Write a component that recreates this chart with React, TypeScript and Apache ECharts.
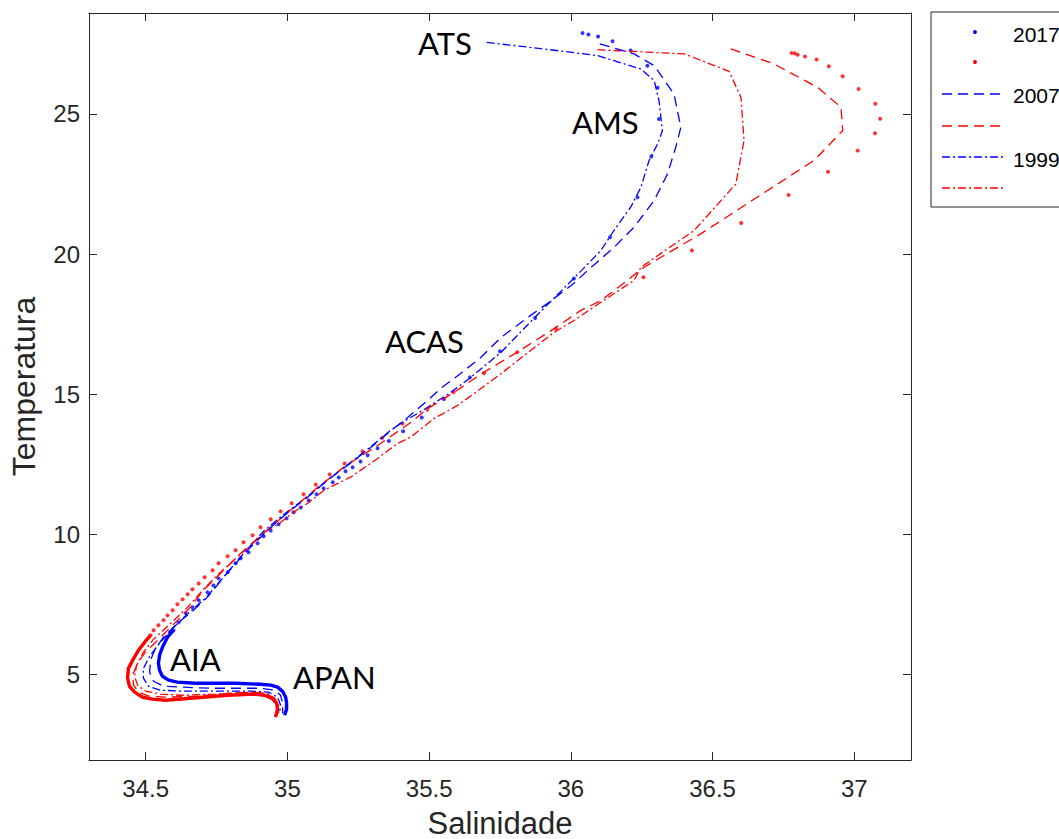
import React, { useEffect, useRef } from "react";
import * as echarts from "echarts";

const xTicks = [34.5, 35, 35.5, 36, 36.5, 37];
const yTicks = [5, 10, 15, 20, 25];
const legendYears = ["2017", "2007", "1999"];

const blue2017Dots = [
  [36.041, 27.89], [36.062, 27.83], [36.096, 27.76], [36.147, 27.59], [36.211, 27.26], [36.27, 26.72],
  [36.306, 25.93], [36.311, 24.82], [36.284, 23.48], [36.235, 22.03], [36.138, 20.6], [36.011, 19.13],
  [35.874, 17.72], [35.75, 16.53], [35.644, 15.6], [35.552, 14.83], [35.474, 14.17], [35.408, 13.68],
  [35.358, 13.33], [35.318, 13.07], [35.283, 12.82], [35.258, 12.6], [35.23, 12.39], [35.205, 12.25],
  [35.181, 12.03], [35.16, 11.86], [35.128, 11.64], [35.103, 11.43], [35.075, 11.21], [35.047, 10.96],
  [35.022, 10.79], [34.997, 10.57], [34.969, 10.36], [34.941, 10.14], [34.916, 9.93], [34.895, 9.68],
  [34.863, 9.36], [34.835, 9.15], [34.817, 8.97], [34.789, 8.65], [34.757, 8.43], [34.739, 8.18],
  [34.718, 7.93], [34.687, 7.65], [34.665, 7.4], [34.641, 7.19], [34.616, 6.86], [34.598, 6.58],
];
const blue2017Dense = [
  [34.598, 6.58], [34.577, 6.33], [34.559, 5.97], [34.549, 5.69], [34.545, 5.4], [34.549, 5.15],
  [34.559, 4.94], [34.581, 4.8], [34.612, 4.73], [34.676, 4.69], [34.729, 4.69], [34.817, 4.69],
  [34.905, 4.65], [34.941, 4.62], [34.965, 4.55], [34.983, 4.4], [34.994, 4.19], [34.997, 3.98],
  [34.997, 3.76], [34.99, 3.55],
];
const red2017Dots = [
  [36.779, 27.17], [36.79, 27.16], [36.8, 27.11], [36.826, 27.05], [36.867, 26.94], [36.91, 26.7],
  [36.959, 26.34], [37.015, 25.89], [37.074, 25.36], [37.091, 24.83], [37.073, 24.31], [37.012, 23.69],
  [36.907, 22.94], [36.768, 22.11], [36.601, 21.11], [36.427, 20.13], [36.256, 19.17], [35.947, 17.34],
  [35.811, 16.5], [35.694, 15.75], [35.586, 15.07], [35.494, 14.45], [35.406, 13.95], [35.335, 13.45],
  [35.265, 12.96], [35.202, 12.53], [35.149, 12.14], [35.1, 11.78], [35.057, 11.43], [35.015, 11.11],
  [34.976, 10.82], [34.941, 10.54], [34.905, 10.25], [34.877, 9.97], [34.845, 9.72], [34.817, 9.43],
  [34.789, 9.22], [34.757, 8.97], [34.736, 8.72], [34.708, 8.47], [34.687, 8.25], [34.665, 8.04],
  [34.648, 7.86], [34.63, 7.68], [34.612, 7.51], [34.595, 7.29], [34.577, 7.11], [34.563, 6.94],
  [34.545, 6.76], [34.528, 6.58], [34.517, 6.4],
];
const red2017Dense = [
  [34.517, 6.4], [34.499, 6.19], [34.475, 5.87], [34.454, 5.51], [34.439, 5.22], [34.436, 4.87],
  [34.443, 4.58], [34.461, 4.37], [34.489, 4.19], [34.524, 4.12], [34.57, 4.08], [34.669, 4.16],
  [34.789, 4.26], [34.881, 4.3], [34.919, 4.26], [34.944, 4.16], [34.962, 3.98], [34.965, 3.76],
  [34.958, 3.48],
];
const blue2007 = [
  [36.102, 27.5], [36.223, 27.14], [36.294, 26.72], [36.364, 25.71], [36.388, 24.52], [36.37, 23.81],
  [36.341, 22.86], [36.294, 21.91], [36.223, 20.96], [36.152, 20.24], [36.059, 19.41], [36.01, 18.95],
  [35.918, 18.24], [35.848, 17.74], [35.753, 17.02], [35.682, 16.31], [35.611, 15.74], [35.541, 15.21],
  [35.495, 14.78], [35.424, 14.17], [35.375, 13.78], [35.294, 13.1], [35.212, 12.46], [35.142, 11.93],
  [35.071, 11.32], [35.011, 10.86], [34.941, 10.25], [34.859, 9.43], [34.775, 8.47], [34.718, 7.76],
  [34.665, 7.26], [34.612, 6.83], [34.563, 6.33], [34.535, 5.94], [34.517, 5.51], [34.514, 5.08],
  [34.528, 4.76], [34.563, 4.58], [34.623, 4.55], [34.729, 4.51], [34.905, 4.51], [34.955, 4.44],
  [34.976, 4.26], [34.983, 3.98], [34.983, 3.62],
];
const red2007 = [
  [36.564, 27.32], [36.717, 26.78], [36.87, 25.95], [36.953, 25.24], [36.959, 24.4], [36.858, 23.34],
  [36.694, 22.27], [36.458, 20.72], [36.258, 19.53], [36.176, 18.88], [36.106, 18.34], [36.035, 17.99],
  [35.941, 17.34], [35.811, 16.5], [35.694, 15.79], [35.588, 15.07], [35.494, 14.48], [35.435, 13.99],
  [35.318, 13.17], [35.198, 12.39], [35.107, 11.68], [35.011, 10.86], [34.916, 10.04], [34.835, 9.32],
  [34.764, 8.61], [34.704, 8.01], [34.648, 7.29], [34.588, 6.69], [34.542, 6.22], [34.499, 5.8],
  [34.471, 5.4], [34.454, 4.98], [34.457, 4.62], [34.475, 4.37], [34.51, 4.23], [34.57, 4.19],
  [34.676, 4.23], [34.792, 4.33], [34.881, 4.37], [34.93, 4.3], [34.955, 4.12], [34.962, 3.84],
  [34.962, 3.59],
];
const blue1999 = [
  [35.703, 27.55], [35.894, 27.33], [36.094, 27.08], [36.247, 26.6], [36.294, 26.19], [36.311, 25.47],
  [36.323, 24.4], [36.306, 23.93], [36.276, 23.34], [36.247, 22.38], [36.211, 21.67], [36.152, 20.84],
  [36.106, 20.13], [36.011, 19.14], [35.869, 17.7], [35.753, 16.49], [35.647, 15.6], [35.576, 15.06],
  [35.488, 14.49], [35.4, 13.96], [35.364, 13.71], [35.287, 13.07], [35.205, 12.43], [35.135, 11.89],
  [35.064, 11.29], [34.987, 10.71], [34.916, 10.11], [34.852, 9.4], [34.771, 8.43], [34.711, 7.72],
  [34.651, 7.19], [34.595, 6.65], [34.549, 6.12], [34.514, 5.65], [34.492, 5.22], [34.492, 4.87],
  [34.51, 4.58], [34.552, 4.44], [34.623, 4.41], [34.747, 4.41], [34.87, 4.41], [34.934, 4.37],
  [34.965, 4.19], [34.976, 3.91], [34.972, 3.62],
];
const red1999 = [
  [36.094, 27.29], [36.4, 27.14], [36.558, 26.52], [36.6, 25.59], [36.611, 24.05], [36.582, 22.5],
  [36.435, 20.84], [36.247, 19.53], [36.223, 19.06], [36.106, 18.28], [36.011, 17.63], [35.941, 17.21],
  [35.858, 16.56], [35.753, 15.73], [35.658, 15.02], [35.6, 14.6], [35.517, 14.13], [35.435, 13.47],
  [35.388, 13.24], [35.317, 12.7], [35.223, 12.04], [35.176, 11.81], [35.129, 11.57], [35.07, 11.1],
  [35.023, 10.8], [34.97, 10.38], [34.929, 10.14], [34.842, 9.36], [34.764, 8.65], [34.704, 8.04],
  [34.644, 7.36], [34.581, 6.76], [34.528, 6.26], [34.492, 5.8], [34.468, 5.33], [34.461, 4.94],
  [34.471, 4.62], [34.499, 4.41], [34.552, 4.3], [34.623, 4.26], [34.747, 4.3], [34.87, 4.37],
  [34.927, 4.33], [34.955, 4.16], [34.969, 3.91], [34.969, 3.62],
];

const waterMasses = [
  { name: "ATS", x: 418, y: 43 },
  { name: "AMS", x: 572, y: 122 },
  { name: "ACAS", x: 385, y: 341 },
  { name: "AIA", x: 170, y: 659 },
  { name: "APAN", x: 293, y: 677 },
];

const BLUE = "#0000ff";
const RED = "#ff0000";
const AXIS = "#262626";
const DASH = [10, 6];
const DASHDOT = [8, 3, 2, 3];

export default function App() {
  const ref = useRef<HTMLDivElement>(null);
  useEffect(() => {
    const chart = echarts.init(ref.current!, null, { renderer: "svg" });
    const lineSeries = (data: number[][], color: string, type: any, width = 1.3) => ({
      type: "line",
      data,
      symbol: "none",
      silent: true,
      animation: false,
      lineStyle: { color, width, type },
    });
    const dotSeries = (data: number[][], color: string) => ({
      type: "scatter",
      data,
      symbol: "circle",
      symbolSize: 4,
      silent: true,
      itemStyle: { color },
    });
    const axisCommon = {
      type: "value",
      axisLine: { show: true, lineStyle: { color: AXIS, width: 1 } },
      axisTick: { show: true, inside: true, length: 8, lineStyle: { color: AXIS, width: 1 } },
      splitLine: { show: false },
    };
    const labelFont = { fontFamily: "Liberation Sans", fontSize: 24, color: AXIS };
    const legendY = [32, 62, 94, 126, 157, 188];
    const legendGraphics: any[] = [
      { type: "rect", shape: { x: 931, y: 12, width: 200, height: 195 }, style: { fill: "#fff", stroke: AXIS, lineWidth: 1 }, z: 10 },
      { type: "circle", shape: { cx: 975, cy: legendY[0], r: 2 }, style: { fill: BLUE }, z: 11 },
      { type: "circle", shape: { cx: 975, cy: legendY[1], r: 2 }, style: { fill: RED }, z: 11 },
      { type: "line", shape: { x1: 942, y1: legendY[2], x2: 1003, y2: legendY[2] }, style: { stroke: BLUE, lineWidth: 1.3, lineDash: DASH }, z: 11 },
      { type: "line", shape: { x1: 942, y1: legendY[3], x2: 1003, y2: legendY[3] }, style: { stroke: RED, lineWidth: 1.3, lineDash: DASH }, z: 11 },
      { type: "line", shape: { x1: 942, y1: legendY[4], x2: 1003, y2: legendY[4] }, style: { stroke: BLUE, lineWidth: 1.3, lineDash: DASHDOT }, z: 11 },
      { type: "line", shape: { x1: 942, y1: legendY[5], x2: 1003, y2: legendY[5] }, style: { stroke: RED, lineWidth: 1.3, lineDash: DASHDOT }, z: 11 },
    ];
    [34, 95.5, 159].forEach((y, i) => {
      legendGraphics.push({
        type: "text",
        x: 1013,
        y,
        z: 11,
        style: { text: legendYears[i], fontFamily: "Liberation Sans", fontSize: 21, fill: "#000", textAlign: "left", textVerticalAlign: "middle" },
      });
    });
    const labelGraphics = waterMasses.map((w) => ({
      type: "text",
      x: w.x,
      y: w.y,
      z: 12,
      style: { text: w.name, fontFamily: "Lato", fontSize: 31, fill: "#000", textAlign: "left", textVerticalAlign: "middle" },
    }));

    chart.setOption({
      animation: false,
      backgroundColor: "#ffffff",
      grid: { left: 89, top: 13, width: 822, height: 747, containLabel: false, outerBoundsMode: "none" },
      xAxis: [
        {
          ...axisCommon,
          position: "bottom",
          min: 34.3,
          max: 37.2,
          name: "Salinidade",
          nameLocation: "middle",
          nameGap: 50,
          nameTextStyle: { fontFamily: "Liberation Sans", fontSize: 31, lineHeight: 26, color: AXIS },
          axisTick: { ...axisCommon.axisTick, customValues: xTicks },
          axisLabel: { ...labelFont, margin: 16, customValues: xTicks },
        },
        {
          ...axisCommon,
          position: "top",
          min: 34.3,
          max: 37.2,
          axisTick: { ...axisCommon.axisTick, customValues: xTicks },
          axisLabel: { show: false },
        },
      ],
      yAxis: [
        {
          ...axisCommon,
          position: "left",
          min: 1.95,
          max: 28.6,
          name: "Temperatura",
          nameLocation: "middle",
          nameGap: 49,
          nameRotate: 90,
          nameTextStyle: { fontFamily: "Liberation Sans", fontSize: 32, color: AXIS },
          axisTick: { ...axisCommon.axisTick, customValues: yTicks },
          axisLabel: { ...labelFont, margin: 9, customValues: yTicks },
        },
        {
          ...axisCommon,
          position: "right",
          min: 1.95,
          max: 28.6,
          axisTick: { ...axisCommon.axisTick, customValues: yTicks },
          axisLabel: { show: false },
        },
      ],
      series: [
        lineSeries(red1999, RED, DASHDOT),
        lineSeries(blue1999, BLUE, DASHDOT),
        lineSeries(red2007, RED, DASH),
        lineSeries(blue2007, BLUE, DASH),
        lineSeries(red2017Dense, RED, "solid", 3.4),
        lineSeries(blue2017Dense, BLUE, "solid", 3.4),
        dotSeries(red2017Dots, RED),
        dotSeries(blue2017Dots, BLUE),
      ],
      graphic: [...legendGraphics, ...labelGraphics],
    });
    return () => chart.dispose();
  }, []);
  return (
    <div
      ref={ref}
      style={{ position: "fixed", left: 0, top: 0, width: 1059, height: 839, background: "#fff" }}
    />
  );
}
